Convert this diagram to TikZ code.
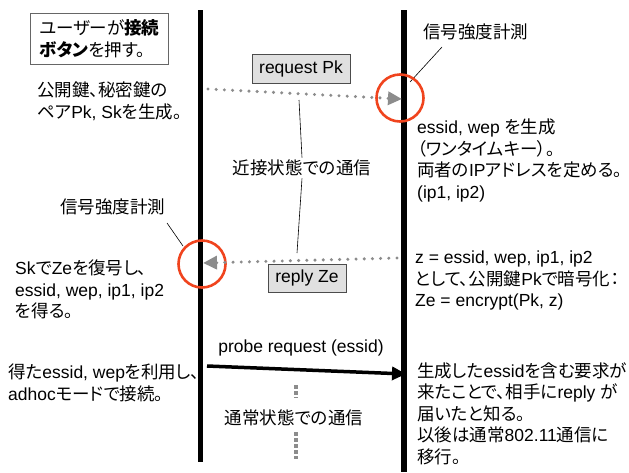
\documentclass[tikz,border=0pt]{standalone}
\usepackage{fontspec}
\setmainfont{Liberation Sans}
\newfontfamily\cjk[RawFeature=+palt]{Noto Sans CJK JP}
\newcommand\J[1]{{\cjk #1}}
\usetikzlibrary{arrows.meta}
\definecolor{dotgray}{HTML}{8C8C8C}
\definecolor{ringred}{HTML}{F0441E}
\definecolor{boxfill}{HTML}{E0E0E0}
\tikzset{
  txt/.style={inner sep=0pt, align=left, font=\fontsize{17.5}{21.5}\selectfont},
  msgbox/.style={draw=black!70, line width=0.8pt, fill=boxfill, inner sep=0pt, font=\fontsize{17.5}{21.5}\selectfont},
  lifeline/.style={line width=5.5pt, black},
  dotline/.style={dotgray, line width=3.4pt, line cap=round, dash pattern=on 0pt off 8.2pt},
  ring/.style={circle, draw=ringred, line width=2.6pt, inner sep=0pt, minimum size=47pt},
  leader/.style={black, line width=0.6pt},
  vdash/.style={dotgray, line width=4.5pt, dash pattern=on 3.5pt off 2.5pt},
}
\begin{document}
\begin{tikzpicture}[x=1pt,y=-1pt]
\useasboundingbox (0,0) rectangle (629,472);
% lifelines
\coordinate (LT) at (200.5,10);
\coordinate (LB) at (200.5,462);
\coordinate (RT) at (404,10);
\coordinate (RB) at (404,472);
\draw[lifeline] (LT) -- (LB);
\draw[lifeline] (RT) -- (RB);

% user box
\node[txt, draw=black!60, line width=0.8pt, anchor=north west, minimum width=138pt, minimum height=51pt,
      font=\fontsize{17.5}{22.5}\selectfont] (user) at (30,13)
  {\J{ユーザーが}\textbf{\J{接続}}\\\textbf{\J{ボタン}}\J{を押す。}};

\node[txt, anchor=north west] (keys) at (37,82)
  {\J{公開鍵、秘密鍵の}\\\J{ペア}Pk, Sk\J{を生成。}};

% signal measurement labels
\node[txt, anchor=west] (sigR) at (423,32) {\J{信号強度計測}};
\node[txt, anchor=west] (sigL) at (60,207) {\J{信号強度計測}};
\coordinate (sigRa) at (442,47);
\coordinate (sigRb) at (410,82);
\coordinate (sigLa) at (167,223);
\coordinate (sigLb) at (183,246);
\draw[leader] (sigRa) -- (sigRb);
\draw[leader] (sigLa) -- (sigLb);

% rings
\node[ring] (cR) at (400,98) {};
\node[ring] (cL) at (202,264) {};

% request Pk
\node[msgbox, minimum width=98pt, minimum height=29pt] (req) at (301,68.5) {request Pk};
\coordinate (reqS) at (208,89);
\coordinate (reqE) at (402,99);
\draw[dotline, -{Triangle[length=14pt,width=13pt,color=dotgray]}] (reqS) -- (reqE);

% reply Ze
\node[msgbox, minimum width=78pt, minimum height=28pt] (rep) at (307,278) {reply Ze};
\coordinate (repS) at (397,258);
\coordinate (repE) at (203,263);
\draw[dotline, -{Triangle[length=14pt,width=13pt,color=dotgray]}] (repS) -- (repE);

% proximity label
\node[txt, inner sep=2pt] (prox) at (302,168) {\J{近接状態での通信}};
\coordinate (proxA) at (299,100);
\coordinate (proxB) at (297,253);
\draw[leader] (prox.north) -- (proxA);
\draw[leader] (prox.south) -- (proxB);

% right texts
\node[txt, anchor=north west] (gen) at (417,119)
  {essid, wep \J{を生成}\\\J{（ワンタイムキー）。}\\\J{両者の}IP\J{アドレスを定める。}\\(ip1, ip2)};
\node[txt, anchor=north west] (enc) at (415,251)
  {z = essid, wep, ip1, ip2\\\J{として、公開鍵}Pk\J{で暗号化：}\\Ze = encrypt(Pk, z)};
\node[txt, anchor=north west] (done) at (417,362)
  {\J{生成した}essid\J{を含む要求が}\\\J{来たことで、相手に}reply \J{が}\\\J{届いたと知る。}\\\J{以後は通常}802.11\J{通信に}\\\J{移行。}};

% left texts
\node[txt, anchor=north west] (dec) at (15,260)
  {Sk\J{で}Ze\J{を復号し、}\\essid, wep, ip1, ip2\\\J{を得る。}};
\node[txt, anchor=north west] (adhoc) at (8,364)
  {\J{得た}essid, wep\J{を利用し、}\\adhoc\J{モードで接続。}};

% probe request
\node[txt] (probe) at (301,348) {probe request (essid)};
\coordinate (prS) at (207,366);
\coordinate (prE) at (406,374);
\draw[black, line width=3.5pt, -{Triangle[length=14pt,width=13pt]}] (prS) -- (prE);

% normal communication
\node[txt] (normal) at (294,418) {\J{通常状態での通信}};
\coordinate (d1a) at (296,385);
\coordinate (d1b) at (296,398);
\coordinate (d2a) at (296,432);
\coordinate (d2b) at (296,459);
\draw[vdash] (d1a) -- (d1b);
\draw[vdash] (d2a) -- (d2b);
\end{tikzpicture}
\end{document}
